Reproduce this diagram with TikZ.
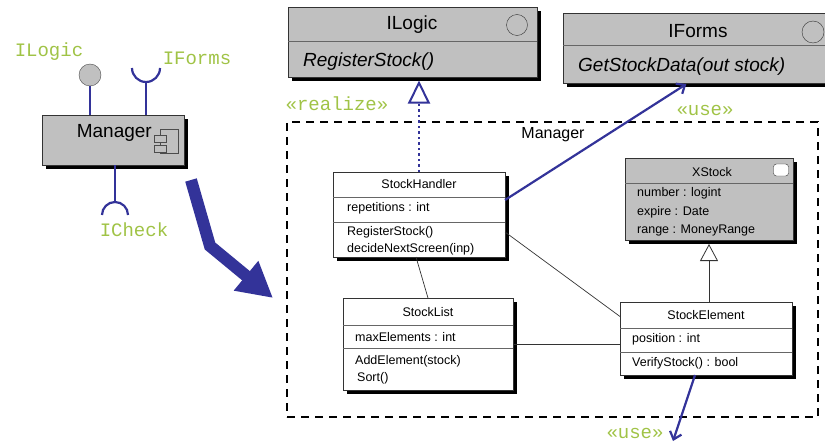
\documentclass[tikz,border=0pt]{standalone}
\usepackage{fontspec}
\setmainfont{Liberation Sans}
\newfontfamily\labelfont{Liberation Mono}
\usetikzlibrary{arrows.meta,shadows}

\definecolor{umlblue}{RGB}{51,51,153}
\definecolor{umlgreen}{RGB}{160,195,70}
\definecolor{umlgray}{RGB}{192,192,192}

\begin{document}
\begin{tikzpicture}[x=1pt, y=-1pt, font=\fontsize{12.5}{14}\selectfont,
  box/.style={draw=black!80, fill=white, line width=0.8pt, inner sep=0pt, outer sep=0pt,
    drop shadow={shadow xshift=4pt, shadow yshift=-4pt, fill=black, opacity=1}},
  greybox/.style={box, fill=umlgray},
  divline/.style={draw=black!60, line width=0.6pt},
  attr/.style={anchor=west, inner sep=0pt},
  big/.style={font=\fontsize{19}{22}\selectfont, inner sep=0pt},
  op/.style={anchor=west, inner sep=0pt, font=\fontsize{19}{22}\selectfont\itshape},
  stereo/.style={font=\labelfont\fontsize{19}{22}\selectfont, text=umlgreen, inner sep=0pt},
  wire/.style={umlblue, line width=2.2pt},
  assoc/.style={black!80, line width=0.7pt}]
  \useasboundingbox (0,0) rectangle (825,444);

  % component with its interfaces
  \node[greybox, minimum width=142pt, minimum height=50pt] (mgr) at (113,140) {};
  \node[big, anchor=east] (mgrname) at (152,133) {Manager};
  \draw[black!70, fill=umlgray] (160,129) rectangle (178,153);
  \draw[black!70, fill=umlgray] (154,135) rectangle (166,142);
  \draw[black!70, fill=umlgray] (154,145) rectangle (166,152);

  \node[circle, draw=black!70, fill=umlgray, minimum size=22pt, inner sep=0pt] (lolli) at (90,75) {};
  \draw[wire] (lolli.south) -- (lolli.south |- mgr.north);
  \coordinate (sockF) at (146,82);
  \draw[wire] (sockF) -- (sockF |- mgr.north);
  \draw[wire] (132,68) arc (180:0:14);
  \coordinate (sockC) at (115,202);
  \draw[wire] (mgr.south -| sockC) -- (sockC);
  \draw[wire] (102,215) arc (180:360:13);

  \node[stereo] (lblLogic) at (49,52) {ILogic};
  \node[stereo] (lblForms) at (197,58) {IForms};
  \node[stereo] (lblCheck) at (134,230) {ICheck};

  % big arrow into the package
  \coordinate (bigA) at (191,180);
  \coordinate (bigB) at (210,246);
  \coordinate (bigC) at (273,298);
  \draw[umlblue, line width=12pt, -{Triangle[length=35pt,width=36pt]}] (bigA) -- (bigB) -- (bigC);

  % package
  \node[draw, dash pattern=on 8pt off 6pt, line width=2.2pt, minimum width=531pt,
    minimum height=295pt, inner sep=0pt, outer sep=0pt] (pkg) at (552.5,269.5) {};
  \node[font=\fontsize{16}{18}\selectfont, inner sep=0pt] (pkgname) at (553,135) {Manager};

  % interfaces
  \node[greybox, minimum width=249pt, minimum height=70pt] (ilogic) at (412.5,42.5) {};
  \draw[divline] (ilogic.west |- 0,41) -- (ilogic.east |- 0,41);
  \node[big] (ilogicT) at (412,25) {ILogic};
  \node[circle, draw=black!80, minimum size=21pt, inner sep=0pt] (ilogicI) at (517,25) {};
  \node[op] (ilogicOp) at (303,62) {RegisterStock()};

  \node[greybox, minimum width=270pt, minimum height=70pt] (iforms) at (698,48) {};
  \draw[divline] (iforms.west |- 0,45) -- (iforms.east |- 0,45);
  \node[big] (iformsT) at (698,31) {IForms};
  \node[circle, draw=black!80, minimum size=22pt, inner sep=0pt] (iformsI) at (813,32) {};
  \node[op] (iformsOp) at (578,67) {GetStockData(out stock)};

  % classes
  \node[box, minimum width=172pt, minimum height=85pt] (sh) at (419,214.5) {};
  \draw[divline] (sh.west |- 0,197) -- (sh.east |- 0,197);
  \draw[divline] (sh.west |- 0,222) -- (sh.east |- 0,222);
  \node[inner sep=0pt] (shT) at (419,184) {StockHandler};
  \node[attr] (shA) at (347,208) {repetitions : int};
  \node[attr] (shO1) at (347,232) {RegisterStock()};
  \node[attr] (shO2) at (347,249) {decideNextScreen(inp)};

  \node[greybox, minimum width=168pt, minimum height=82pt] (xs) at (709,199) {};
  \draw[divline] (xs.west |- 0,183) -- (xs.east |- 0,183);
  \node[inner sep=0pt] (xsT) at (712,172) {XStock};
  \node[draw=black!80, fill=white, rounded corners=3pt, minimum width=15pt,
    minimum height=12pt, inner sep=0pt] (xsI) at (781,170) {};
  \node[attr] (xsA1) at (637,193) {number : logint};
  \node[attr] (xsA2) at (637,212) {expire : Date};
  \node[attr] (xsA3) at (637,230) {range : MoneyRange};

  \node[box, minimum width=170pt, minimum height=92pt] (sl) at (428,344) {};
  \draw[divline] (sl.west |- 0,325) -- (sl.east |- 0,325);
  \draw[divline] (sl.west |- 0,348) -- (sl.east |- 0,348);
  \node[inner sep=0pt] (slT) at (428,312) {StockList};
  \node[attr] (slA) at (355,337) {maxElements : int};
  \node[attr] (slO1) at (355,361) {AddElement(stock)};
  \node[attr] (slO2) at (357,378) {Sort()};

  \node[box, minimum width=172pt, minimum height=73pt] (se) at (706,338.5) {};
  \draw[divline] (se.west |- 0,328) -- (se.east |- 0,328);
  \draw[divline] (se.west |- 0,352) -- (se.east |- 0,352);
  \node[inner sep=0pt] (seT) at (706,315) {StockElement};
  \node[attr] (seA) at (632,339) {position : int};
  \node[attr] (seO) at (632,363) {VerifyStock() : bool};

  % relations
  \draw[umlblue, line width=2pt, dash pattern=on 2.5pt off 3pt, shorten >=3pt,
    -{Triangle[open, length=23pt, width=22pt, line width=2pt]}] (sh.north) -- (ilogic.south -| sh.north);
  \node[stereo] (realizeLbl) at (337,104) {«realize»};

  \draw[wire, shorten >=2pt, -{Straight Barb[length=7pt, width=12pt]}] ([yshift=14.5pt]sh.east) -- ([xshift=-10pt]iforms.south);
  \node[stereo] (useLbl1) at (705,110) {«use»};

  \coordinate (useEnd) at (673,441);
  \draw[wire, -{Straight Barb[length=7pt, width=12pt]}] ([xshift=-11pt]se.south) -- (useEnd);
  \node[stereo] (useLbl2) at (635,433) {«use»};

  \draw[assoc, shorten >=4pt, -{Triangle[open, length=17pt, width=18pt, line width=0.8pt]}] (xs.south |- se.north) -- (xs.south);
  \draw[assoc] ([xshift=-3pt]sh.south) -- (sl.north);
  \draw[assoc] ([yshift=-17.5pt]sh.east) -- ([yshift=22pt]se.west);
  \draw[assoc] (sl.east) -- (sl.east -| se.west);
\end{tikzpicture}
\end{document}
